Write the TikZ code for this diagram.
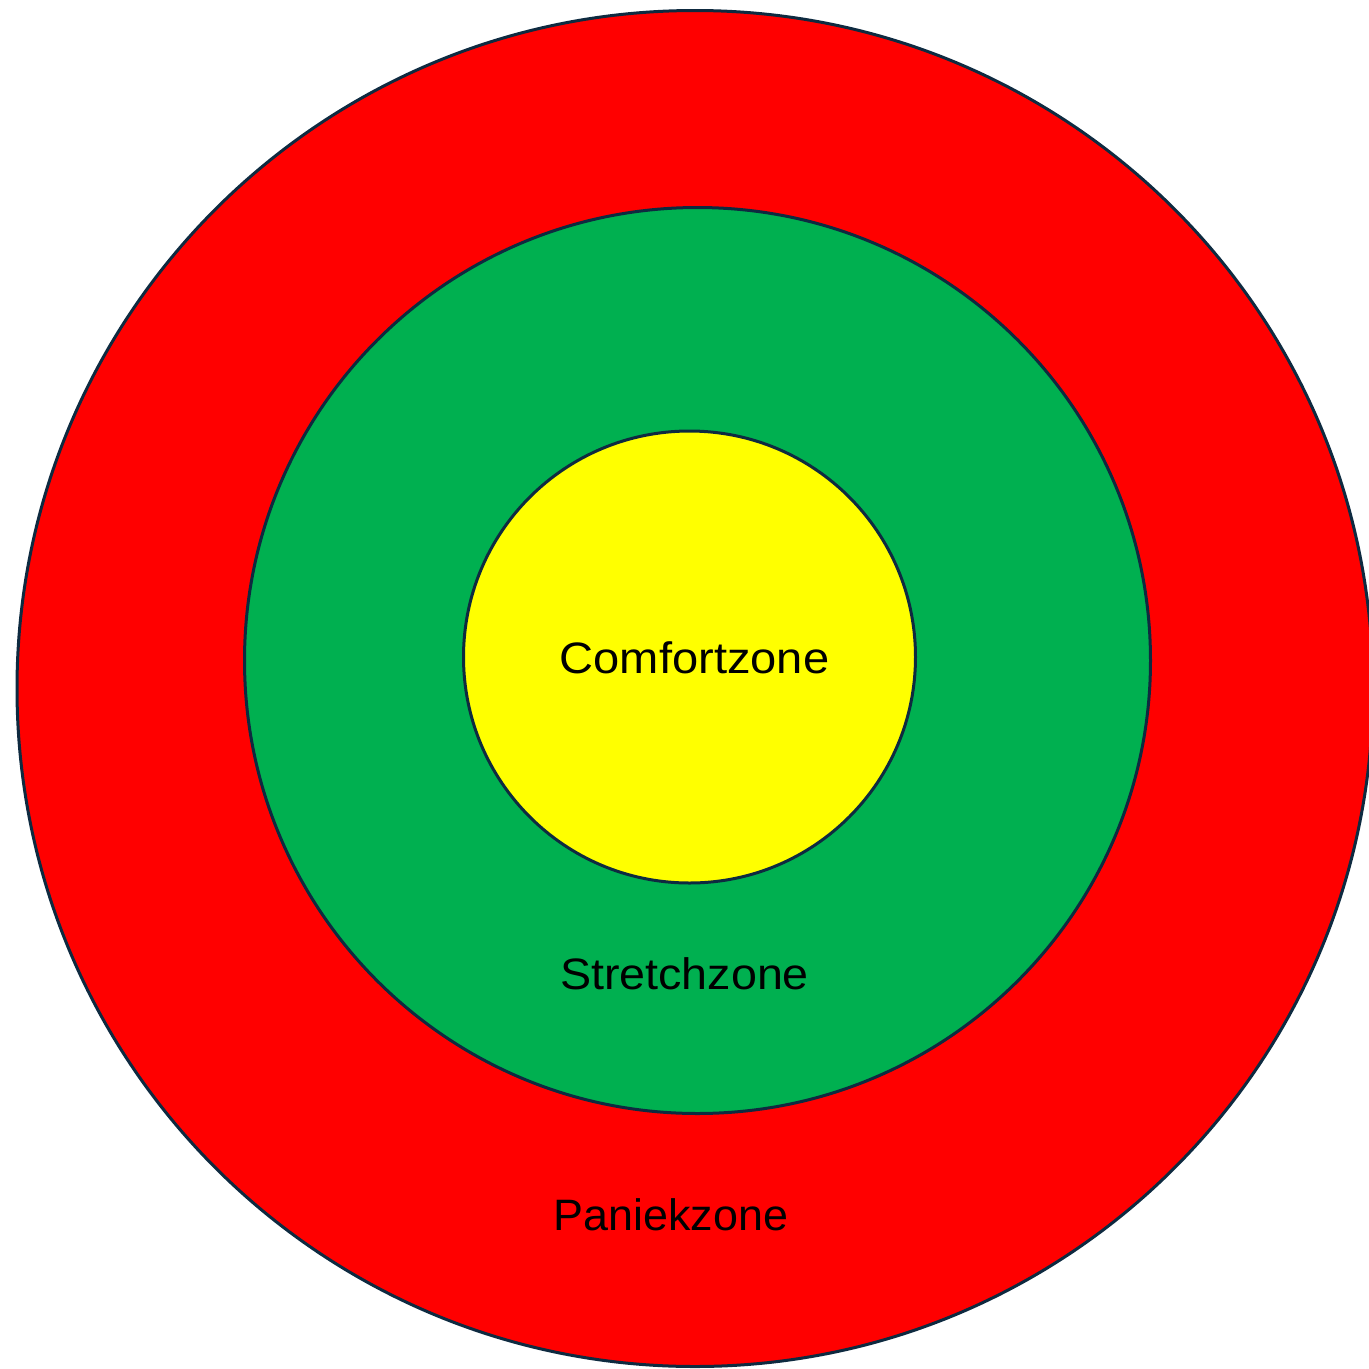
\documentclass[tikz,border=0pt]{standalone}
\usepackage{fontspec}
\usepackage{graphicx}
\setmainfont{Liberation Sans}
\definecolor{zred}{HTML}{FF0000}
\definecolor{zgreen}{HTML}{00B050}
\definecolor{zyellow}{HTML}{FFFF00}
\definecolor{zline}{HTML}{0E2A40}
\begin{document}
\begin{tikzpicture}[x=1pt,y=-1pt,
  zone/.style={draw=zline,line width=3pt},
  lbl/.style={anchor=base,inner sep=0pt,font=\fontsize{44}{50}\selectfont}]
\useasboundingbox (0,0) rectangle (1369,1369);
\begin{scope}
\clip (0,0) rectangle (1369,1369);
\path[zone,fill=zred] (695,688.5) circle[radius=678];
\path[zone,fill=zgreen] (697.5,660.5) circle[radius=453];
\path[zone,fill=zyellow] (689.5,657) circle[radius=226];
\end{scope}
\node[lbl] (comfort) at (694.5,673) {\scalebox{1.07}[1]{Comfortzone}};
\node[lbl] (stretch) at (684.5,989) {\scalebox{1.06}[1]{Stretchzone}};
\node[lbl] (paniek) at (671,1230) {\scalebox{1.02}[1]{Paniekzone}};
\end{tikzpicture}
\end{document}
